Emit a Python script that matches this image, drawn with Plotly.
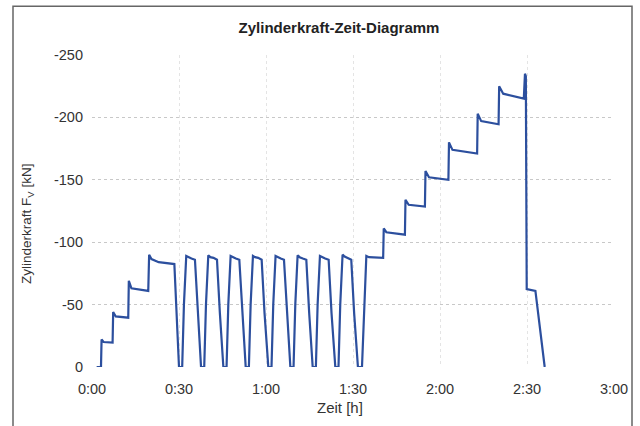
import plotly.graph_objects as go

# Time in minutes
time_min = [
    1.6, 3.1, 3.3, 4.0, 7.1, 7.3, 8.2, 12.5, 12.7, 13.6, 19.4,
    19.7, 20.5, 23.0, 28.4, 29.2, 30.0,
    31.1, 31.7, 32.5, 33.2, 34.3, 35.5, 36.5, 37.6,
    38.7, 39.3, 40.1, 40.8, 41.9, 43.1, 44.1, 45.3,
    46.4, 47.0, 47.8, 48.5, 49.6, 50.8, 51.8, 53.0,
    54.1, 54.7, 55.5, 56.2, 57.3, 58.5, 59.5, 60.8,
    61.9, 62.5, 63.3, 64.0, 65.1, 66.2, 67.2, 68.4,
    69.5, 70.1, 70.9, 71.6, 72.7, 73.9, 74.9, 76.1,
    77.2, 77.8, 78.6, 79.3, 80.4, 81.6, 82.6, 83.9,
    85.0, 85.6, 86.4, 87.1, 88.2, 89.4, 90.4, 91.7,
    93.1, 93.8, 94.6, 95.5, 100.4,
    100.6, 101.5, 107.9, 108.1, 109.2, 114.8,
    115.0, 116.2, 122.9, 123.1, 124.3, 132.8,
    133.0, 134.2, 140.2, 140.4, 141.8, 148.9,
    149.3, 149.6, 149.9, 152.9, 156.1,
]

# Cylinder force in kN
force_kn = [
    0, 0, -22, -20, -19.5, -44, -40.5, -39.5, -69, -63, -61,
    -90, -86.5, -84, -82.5, -40, 0,
    0, -50, -89, -88, -87, -86, -43, 0,
    0, -50, -89.5, -88, -87.5, -86, -43, 0,
    0, -50, -89, -88, -87, -86, -43, 0,
    0, -50, -89, -88, -87.5, -86, -43, 0,
    0, -50, -89, -88, -87, -86, -43, 0,
    0, -50, -89.5, -88, -87, -86, -43, 0,
    0, -50, -89, -88, -87, -86, -43, 0,
    0, -50, -90, -88.5, -87.5, -86, -43, 0,
    0, -50, -89, -88, -87.5,
    -111, -108, -106, -134, -130, -128.5,
    -157, -152, -150, -180, -174, -171,
    -203, -197, -194.5, -225, -219, -215,
    -235, -233, -62.5, -61, 0,
]

x_tickvals = [0, 30, 60, 90, 120, 150, 180]
x_ticktext = ["0:00", "0:30", "1:00", "1:30", "2:00", "2:30", "3:00"]
y_tickvals = [0, -50, -100, -150, -200, -250]
y_ticktext = ["0", "-50", "-100", "-150", "-200", "-250"]

FONT = "Liberation Sans, Arial, sans-serif"

fig = go.Figure()
fig.add_trace(go.Scatter(
    x=time_min, y=force_kn, mode="lines",
    line=dict(color="#2c4f9e", width=2.2),
    showlegend=False,
))

fig.update_layout(
    width=640, height=426,
    margin=dict(l=92, r=26, t=55, b=59),
    paper_bgcolor="white", plot_bgcolor="white",
    font=dict(family=FONT, size=14, color="#333333"),
    title=dict(
        text="<b>Zylinderkraft-Zeit-Diagramm</b>",
        x=339 / 640, xanchor="center", xref="container",
        y=1 - 28 / 426, yanchor="middle",
        font=dict(family=FONT, size=15, color="#222222"),
    ),
    xaxis=dict(
        range=[0, 180], tickvals=x_tickvals, ticktext=x_ticktext,
        showgrid=True, gridcolor="#e4e4e4", griddash="dot", gridwidth=1,
        zeroline=False, showline=False, ticks="", ticklabelstandoff=11,
        tickfont=dict(size=14.5, color="#333333"),
    ),
    yaxis=dict(
        range=[0, -250], tickvals=y_tickvals, ticktext=y_ticktext,
        showgrid=True, gridcolor="#c8c8c8", griddash="dot", gridwidth=1,
        zeroline=False, showline=False, ticks="", ticklabelstandoff=8,
        tickfont=dict(size=14.5, color="#333333"),
    ),
    shapes=[dict(
        type="rect", xref="paper", yref="paper",
        x0=(13 - 92) / 522, x1=(632 - 92) / 522,
        y0=(367.3 - 440) / 312.5, y1=(367.3 - 6) / 312.5,
        line=dict(color="#666666", width=1.5), fillcolor="rgba(0,0,0,0)",
        layer="below",
    )],
    annotations=[
        dict(text="Zylinderkraft F<sub>V</sub> [kN]", textangle=-90,
             xref="paper", yref="paper",
             x=(28 - 92) / 522, y=(367.3 - 224) / 312.5,
             xanchor="center", yanchor="middle", showarrow=False,
             font=dict(family=FONT, size=13.5, color="#333333")),
        dict(text="Zeit [h]", xref="paper", yref="paper",
             x=(340 - 92) / 522, y=(367.3 - 408) / 312.5,
             xanchor="center", yanchor="middle", showarrow=False,
             font=dict(family=FONT, size=15, color="#333333")),
    ],
)

fig.write_html(
    "out.html",
    config={"displayModeBar": False},
    post_script="document.body.style.margin='0';document.body.style.padding='0';",
)
